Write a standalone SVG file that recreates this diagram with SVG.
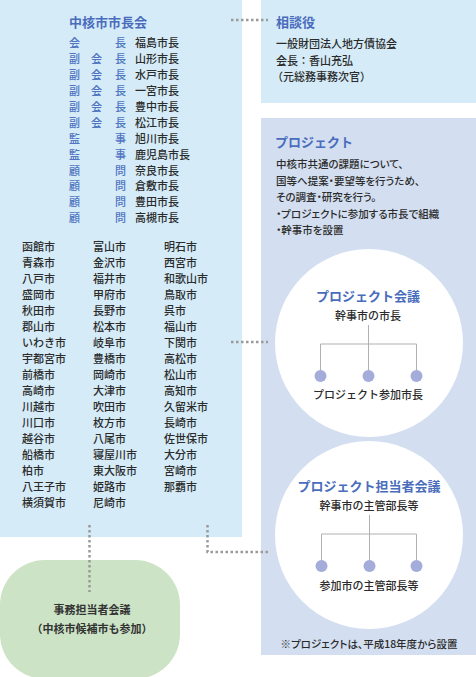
<svg xmlns="http://www.w3.org/2000/svg" width="476" height="677" viewBox="0 0 476 677">
<style>
text{font-family:"Noto Sans CJK JP","Noto Sans CJK SC",sans-serif;dominant-baseline:central;}
.h{font-size:13px;font-weight:bold;fill:#4a6cbd;}
.lb{font-size:11px;font-weight:500;fill:#4f74c0;}
.t{font-size:11px;font-weight:500;fill:#2b2b2b;}
.g{font-size:11px;font-weight:bold;fill:#333333;}
.s{font-size:10.5px;font-weight:500;fill:#2b2b2b;font-feature-settings:"palt";}
.dot{stroke:#9a9a9a;stroke-width:2.5;stroke-dasharray:2.5 2.5;fill:none;}
.tree{stroke:#b0b0b0;stroke-width:1;fill:none;}
.nd{fill:#a4acda;}
</style>
<rect width="476" height="677" fill="#ffffff"/>
<g id="mayors-association">
<rect x="0" y="0" width="242" height="537" fill="#d5ebf8"/>
<text class="h" x="69" y="21">中核市市長会</text>
<g class="lb">
<text x="69" y="42.3">会</text><text x="115" y="42.3">長</text>
<text x="69" y="58.2">副</text><text x="91" y="58.2">会</text><text x="115" y="58.2">長</text>
<text x="69" y="74.1">副</text><text x="91" y="74.1">会</text><text x="115" y="74.1">長</text>
<text x="69" y="90">副</text><text x="91" y="90">会</text><text x="115" y="90">長</text>
<text x="69" y="105.9">副</text><text x="91" y="105.9">会</text><text x="115" y="105.9">長</text>
<text x="69" y="121.8">副</text><text x="91" y="121.8">会</text><text x="115" y="121.8">長</text>
<text x="69" y="137.7">監</text><text x="115" y="137.7">事</text>
<text x="69" y="153.6">監</text><text x="115" y="153.6">事</text>
<text x="69" y="169.5">顧</text><text x="115" y="169.5">問</text>
<text x="69" y="185.4">顧</text><text x="115" y="185.4">問</text>
<text x="69" y="201.3">顧</text><text x="115" y="201.3">問</text>
<text x="69" y="217.2">顧</text><text x="115" y="217.2">問</text>
</g>
<g class="t">
<text x="135" y="42.3">福島市長</text>
<text x="135" y="58.2">山形市長</text>
<text x="135" y="74.1">水戸市長</text>
<text x="135" y="90">一宮市長</text>
<text x="135" y="105.9">豊中市長</text>
<text x="135" y="121.8">松江市長</text>
<text x="135" y="137.7">旭川市長</text>
<text x="135" y="153.6">鹿児島市長</text>
<text x="135" y="169.5">奈良市長</text>
<text x="135" y="185.4">倉敷市長</text>
<text x="135" y="201.3">豊田市長</text>
<text x="135" y="217.2">高槻市長</text>
</g>
<g class="t">
<text x="22" y="245.7">函館市</text>
<text x="22" y="261.7">青森市</text>
<text x="22" y="277.7">八戸市</text>
<text x="22" y="293.7">盛岡市</text>
<text x="22" y="309.7">秋田市</text>
<text x="22" y="325.7">郡山市</text>
<text x="22" y="341.7">いわき市</text>
<text x="22" y="357.7">宇都宮市</text>
<text x="22" y="373.7">前橋市</text>
<text x="22" y="389.7">高崎市</text>
<text x="22" y="405.7">川越市</text>
<text x="22" y="421.7">川口市</text>
<text x="22" y="437.7">越谷市</text>
<text x="22" y="453.7">船橋市</text>
<text x="22" y="469.7">柏市</text>
<text x="22" y="485.7">八王子市</text>
<text x="22" y="501.7">横須賀市</text>
<text x="93" y="245.7">富山市</text>
<text x="93" y="261.7">金沢市</text>
<text x="93" y="277.7">福井市</text>
<text x="93" y="293.7">甲府市</text>
<text x="93" y="309.7">長野市</text>
<text x="93" y="325.7">松本市</text>
<text x="93" y="341.7">岐阜市</text>
<text x="93" y="357.7">豊橋市</text>
<text x="93" y="373.7">岡崎市</text>
<text x="93" y="389.7">大津市</text>
<text x="93" y="405.7">吹田市</text>
<text x="93" y="421.7">枚方市</text>
<text x="93" y="437.7">八尾市</text>
<text x="93" y="453.7">寝屋川市</text>
<text x="93" y="469.7">東大阪市</text>
<text x="93" y="485.7">姫路市</text>
<text x="93" y="501.7">尼崎市</text>
<text x="164" y="245.7">明石市</text>
<text x="164" y="261.7">西宮市</text>
<text x="164" y="277.7">和歌山市</text>
<text x="164" y="293.7">鳥取市</text>
<text x="164" y="309.7">呉市</text>
<text x="164" y="325.7">福山市</text>
<text x="164" y="341.7">下関市</text>
<text x="164" y="357.7">高松市</text>
<text x="164" y="373.7">松山市</text>
<text x="164" y="389.7">高知市</text>
<text x="164" y="405.7">久留米市</text>
<text x="164" y="421.7">長崎市</text>
<text x="164" y="437.7">佐世保市</text>
<text x="164" y="453.7">大分市</text>
<text x="164" y="469.7">宮崎市</text>
<text x="164" y="485.7">那覇市</text>
</g>
</g>
<g id="advisor">
<rect x="261" y="0" width="215" height="103" fill="#d5ebf8"/>
<text class="h" x="276" y="21">相談役</text>
<text class="t" x="276" y="43">一般財団法人地方債協会</text>
<text class="t" x="276" y="60">会長：香山充弘</text>
<text class="t" x="272" y="76">（元総務事務次官）</text>
</g>
<g id="project">
<rect x="261" y="118" width="215" height="537" fill="#d3dff0"/>
<text class="h" x="275" y="141">プロジェクト</text>
<text class="s" x="276" y="163">中核市共通の課題について、</text>
<text class="s" x="276" y="180">国等へ提案・要望等を行うため、</text>
<text class="s" x="276" y="196.5">その調査・研究を行う。</text>
<text class="s" x="276" y="213">・プロジェクトに参加する市長で組織</text>
<text class="s" x="276" y="229.5">・幹事市を設置</text>
<text class="s" x="369" y="643" text-anchor="middle">※プロジェクトは、平成18年度から設置</text>
</g>
<g id="project-meeting">
<circle cx="369" cy="343" r="94" fill="#ffffff"/>
<text class="h" x="368" y="295" text-anchor="middle">プロジェクト会議</text>
<text class="t" x="368" y="315" text-anchor="middle">幹事市の市長</text>
<path class="tree" d="M368.5 325V376M320.5 344H416.5M320.5 344V376M416.5 344V376"/>
<circle class="nd" cx="320.5" cy="376" r="6"/>
<circle class="nd" cx="368.5" cy="376" r="6"/>
<circle class="nd" cx="416.5" cy="376" r="6"/>
<text class="t" x="368" y="394" text-anchor="middle">プロジェクト参加市長</text>
</g>
<g id="project-staff-meeting">
<circle cx="369" cy="535" r="94" fill="#ffffff"/>
<text class="h" x="369" y="485" text-anchor="middle">プロジェクト担当者会議</text>
<text class="t" x="369" y="505" text-anchor="middle">幹事市の主管部長等</text>
<path class="tree" d="M369.5 515V566M321.5 534H416.5M321.5 534V566M416.5 534V566"/>
<circle class="nd" cx="321.5" cy="566" r="6"/>
<circle class="nd" cx="369.5" cy="566" r="6"/>
<circle class="nd" cx="416.5" cy="566" r="6"/>
<text class="t" x="369" y="585" text-anchor="middle">参加市の主管部長等</text>
</g>
<g id="staff-meeting">
<rect x="0" y="560" width="180" height="119" rx="45" fill="#cce3c5"/>
<text class="g" x="92" y="609" text-anchor="middle">事務担当者会議</text>
<text class="g" x="92" y="628" text-anchor="middle">（中核市候補市も参加）</text>
</g>
<g id="connectors">
<path class="dot" d="M231 20H268"/>
<path class="dot" d="M231 342H268"/>
<path class="dot" d="M89.5 525V592"/>
<path class="dot" d="M207.5 525V552H270"/>
</g>
</svg>
